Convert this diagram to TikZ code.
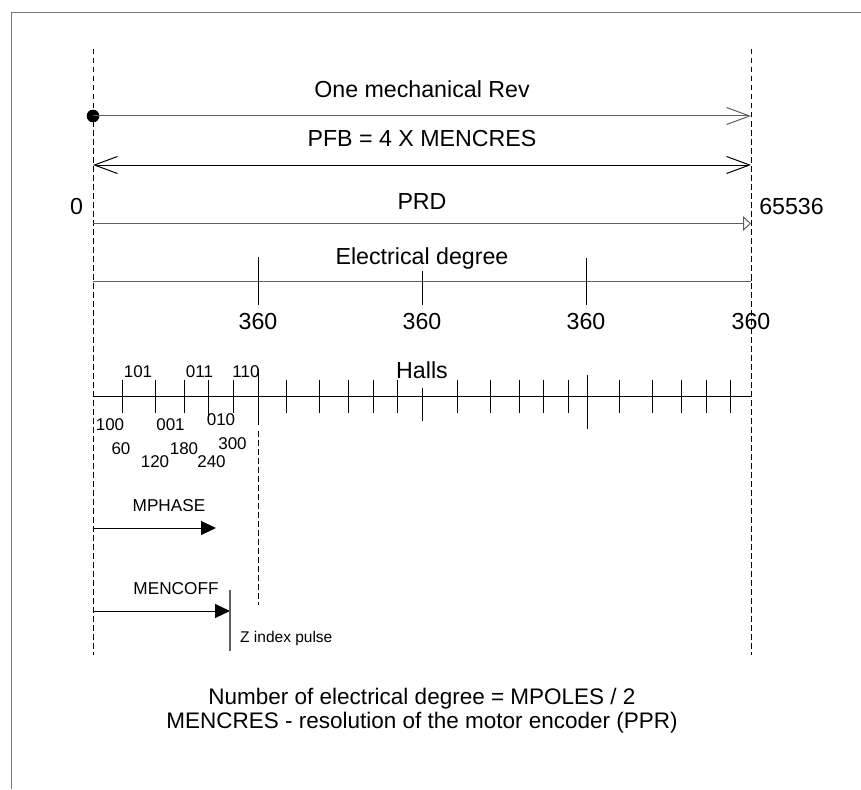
\documentclass[tikz,border=0pt]{standalone}
\usepackage{fontspec}
\setmainfont{Liberation Sans}
\usetikzlibrary{arrows.meta}
\definecolor{gl}{RGB}{95,95,95}
\definecolor{frame}{RGB}{120,120,120}
\tikzset{
  big/.style={font=\fontsize{23.2}{27}\selectfont, inner sep=0pt, anchor=base},
  note/.style={font=\fontsize{22.5}{26}\selectfont, inner sep=0pt, anchor=base},
  sml/.style={font=\fontsize{17}{20}\selectfont, inner sep=0pt, anchor=base},
  mid/.style={font=\fontsize{17.2}{20}\selectfont, inner sep=0pt, anchor=base},
  tiny/.style={font=\fontsize{15.5}{18}\selectfont, inner sep=0pt, anchor=base west},
  guide/.style={dash pattern=on 5.5pt off 3.5pt, line width=0.9pt},
  ln/.style={line width=1pt},
  vee/.style={-{Straight Barb[length=23pt,width=17pt]}},
  dvee/.style={{Straight Barb[length=23pt,width=17pt]}-{Straight Barb[length=23pt,width=17pt]}},
  opentri/.style={-{Triangle[open,length=8pt,width=15pt]}},
  solidtri/.style={-{Triangle[length=15pt,width=14pt]}},
}
\begin{document}
\begin{tikzpicture}[x=1pt,y=-1pt]
\useasboundingbox (0,0) rectangle (861,789);
% frame (top and left edges)
\coordinate (fbl) at (11,789);
\coordinate (ftl) at (11,13);
\coordinate (ftr) at (861,13);
\draw[frame, line width=1pt] (fbl) -- (ftl) -- (ftr);

% guide lines
\coordinate (gLt) at (93,49);  \coordinate (gLb) at (93,655);
\coordinate (gRt) at (751,49); \coordinate (gRb) at (751,655);
\draw[guide] (gLt) -- (gLb);
\draw[guide] (gRt) -- (gRb);

% one mechanical rev
\node[big] (t1) at (422,98) {One mechanical Rev};
\node[circle, fill=black, inner sep=0pt, minimum size=12.6pt] (dot) at (93,116) {};
\coordinate (a1e) at (751,116);
\draw[gl, ln, vee] (dot.center) -- (a1e);

% PFB
\node[big] (t2) at (422,146) {PFB = 4 X MENCRES};
\coordinate (a2s) at (93,165); \coordinate (a2e) at (751,165);
\draw[ln, dvee] (a2s) -- (a2e);

% PRD
\node[big] (t3) at (422,209) {PRD};
\node[big] (zero) at (76.5,214) {0};
\node[big] (full) at (791.5,214) {65536};
\coordinate (a3s) at (93,223.5); \coordinate (a3e) at (751,223.5);
\draw[gl, ln, opentri] (a3s) -- (a3e);

% electrical degree
\node[big] (t4) at (422,264) {Electrical degree};
\coordinate (e0) at (93,281); \coordinate (e1) at (751,281);
\draw[gl, ln] (e0) -- (e1);
\draw[ln] (751,277) -- (e1);
\draw[ln] (258,257) -- (258,305);
\draw[ln] (422,271) -- (422,305);
\draw[ln] (586,258) -- (586,305);
\foreach \x/\n in {258/a,422/b,586/c,751/d}
  \node[big] (d\n) at (\x,329) {360};

% halls
\node[big] (t5) at (422,378) {Halls};
\coordinate (h0) at (93,396); \coordinate (h1) at (751,396);
\draw[ln] (h0) -- (h1);
\foreach \x in {122,155,184,233,286,319,348,373,397,457,490,519,543,568,619,652,681,706,730}
  \draw[ln] (\x,380) -- (\x,413);
\draw[ln] (208,380) -- (208,422);
\draw[ln] (422,388) -- (422,421);
\draw[ln] (258,369) -- (258,425);
\draw[ln] (587,375) -- (587,429);

\node[sml] (s101) at (138,377) {101};
\node[sml] (s011) at (199.5,377) {011};
\node[sml] (s110) at (246,377) {110};
\node[sml] (s100) at (110,430) {100};
\node[sml] (s001) at (170.5,430) {001};
\node[sml] (s010) at (221,425.5) {010};

\node[sml] (g60)  at (121,454) {60};
\node[sml] (g120) at (155,467) {120};
\node[sml] (g180) at (184,454) {180};
\node[sml] (g240) at (211.5,467) {240};
\node[sml] (g300) at (232.5,449) {300};

% dashed line at 360 electrical
\coordinate (m0) at (258,431); \coordinate (m1) at (258,605);
\draw[guide] (m0) -- (m1);

% MPHASE
\node[mid] (mph) at (169,511.5) {MPHASE};
\coordinate (p0) at (93,528); \coordinate (p1) at (216,528);
\draw[ln, solidtri] (p0) -- (p1);

% MENCOFF
\node[mid] (mco) at (176,594) {MENCOFF};
\coordinate (q0) at (93,611); \coordinate (q1) at (230,611);
\draw[ln, solidtri] (q0) -- (q1);
\coordinate (z0) at (230,590); \coordinate (z1) at (230,651);
\draw[gl, line width=1.2pt] (z0) -- (z1);
\node[tiny] (zi) at (240,642) {Z index pulse};

% notes
\node[note] (n1) at (422,704) {Number of electrical degree = MPOLES / 2};
\node[note] (n2) at (422,728) {MENCRES - resolution of the motor encoder (PPR)};
\end{tikzpicture}
\end{document}
